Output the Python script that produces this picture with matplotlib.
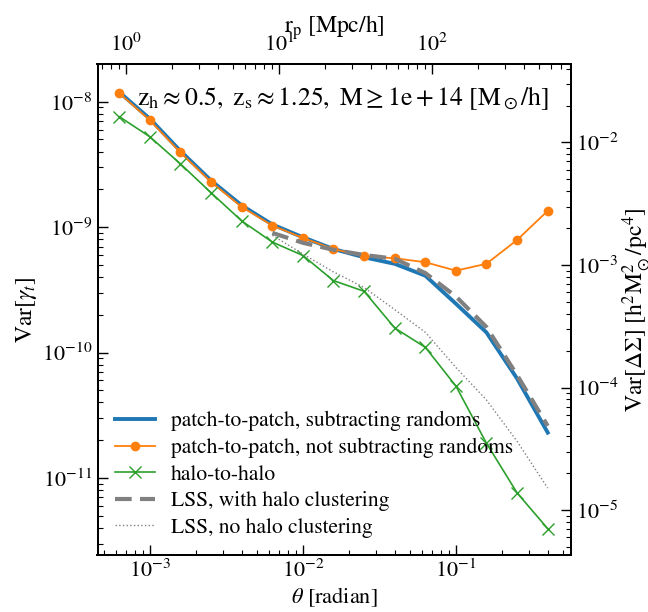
import matplotlib
matplotlib.use("Agg")
import matplotlib.pyplot as plt
import numpy as np

plt.rcParams['font.family'] = ['STIXGeneral', 'DejaVu Serif']
plt.rcParams['mathtext.fontset'] = 'stix'

# data
theta = [6.31e-4, 1.0e-3, 1.58e-3, 2.51e-3, 3.98e-3, 6.31e-3, 1.0e-2, 1.58e-2,
         2.51e-2, 3.98e-2, 6.31e-2, 0.1, 0.158, 0.251, 0.398]
var_sub = [1.19e-8, 7.3e-9, 4.05e-9, 2.35e-9, 1.49e-9, 1.05e-9, 8.3e-10, 6.7e-10,
           5.75e-10, 5.1e-10, 4.1e-10, 2.45e-10, 1.45e-10, 6.2e-11, 2.3e-11]
var_nosub = [1.17e-8, 7.1e-9, 3.94e-9, 2.29e-9, 1.45e-9, 1.03e-9, 8.2e-10, 6.7e-10,
             5.86e-10, 5.65e-10, 5.25e-10, 4.5e-10, 5.1e-10, 7.9e-10, 1.35e-9]
var_h2h = [7.6e-9, 5.25e-9, 3.2e-9, 1.88e-9, 1.12e-9, 7.6e-10, 5.94e-10, 3.75e-10,
           3.08e-10, 1.57e-10, 1.1e-10, 5.4e-11, 1.9e-11, 7.6e-12, 3.94e-12]
theta_lss = [6.31e-3, 1.0e-2, 1.58e-2, 2.51e-2, 3.98e-2, 6.31e-2, 0.1, 0.158, 0.251, 0.398]
var_lss_clust = [9.0e-10, 7.5e-10, 6.6e-10, 6.0e-10, 5.6e-10, 4.3e-10, 2.8e-10,
                 1.6e-10, 6.6e-11, 2.6e-11]
var_lss_noclust = [8.6e-10, 6.1e-10, 4.4e-10, 3.3e-10, 2.2e-10, 1.45e-10, 7.6e-11,
                   4.2e-11, 1.96e-11, 8.3e-12]

labels = ['patch-to-patch, subtracting randoms',
          'patch-to-patch, not subtracting randoms',
          'halo-to-halo',
          'LSS, with halo clustering',
          'LSS, no halo clustering']

xlim = (4.54e-4, 0.565)
ylim = (2.0e-8, 2.43e-12)
ylim_right = (4.3e-6, 4.37e-2)
rp_per_rad = 1435.0

fig = plt.figure(figsize=(6.48, 6.12), dpi=100)
ax = fig.add_axes([97.5/648, 1-555/612, (571-97.5)/648, (555-64)/612])

ax.plot(theta, var_sub, color='#1f77b4', lw=2.8, label=labels[0])
ax.plot(theta, var_nosub, color='#ff7f0e', lw=1.3, marker='o', ms=6, label=labels[1])
ax.plot(theta, var_h2h, color='#2ca02c', lw=1.2, marker='x', ms=9, mew=1.0, label=labels[2])
ax.plot(theta_lss, var_lss_clust, color='gray', lw=3, ls='--', dashes=(4, 2), label=labels[3])
ax.plot(theta_lss, var_lss_noclust, color='gray', lw=1.0, ls=':', label=labels[4])

ax.set_xscale('log')
ax.set_yscale('log')
ax.set_xlim(*xlim)
ax.set_ylim(ylim[1], ylim[0])
ax.set_xlabel(r'$\theta\ [\mathrm{radian}]$', fontsize=16, labelpad=2)
ax.set_ylabel(r'$\mathrm{Var}[\gamma_t]$', fontsize=17, labelpad=2)
ax.tick_params(which='both', direction='in', top=False, right=False, labelsize=16)
ax.tick_params(which='major', length=7, width=1)
ax.tick_params(which='minor', length=3.5, width=0.8)

ax.text(0.084, 0.93, r'$\mathrm{z_h \approx 0.5,\ z_s \approx 1.25,\ M \geq 1e+14\ [M_\odot/h]}$',
        transform=ax.transAxes, fontsize=18.5, ha='left', va='center')

leg = ax.legend(loc='lower left', frameon=False, fontsize=15.5, handlelength=1.86,
                handletextpad=0.74, borderaxespad=0.4, labelspacing=0.3)

ax2 = ax.twinx()
ax2.set_yscale('log')
ax2.set_ylim(*ylim_right)
ax2.set_ylabel(r'$\mathrm{Var}[\Delta\Sigma]\ [\mathrm{h^2M_\odot^2/pc^4}]$', fontsize=17, labelpad=2)
ax2.tick_params(which='both', direction='in', labelsize=16)
ax2.tick_params(which='major', length=7, width=1)
ax2.tick_params(which='minor', length=3.5, width=0.8)

ax3 = ax.twiny()
ax3.set_xscale('log')
ax3.set_xlim(xlim[0]*rp_per_rad, xlim[1]*rp_per_rad)
ax3.set_xlabel(r'$\mathrm{r_p\ [Mpc/h]}$', fontsize=17, labelpad=0)
ax3.tick_params(which='both', direction='in', labelsize=16, pad=6)
ax3.tick_params(which='major', length=7, width=1)
ax3.tick_params(which='minor', length=3.5, width=0.8)

for a in (ax, ax2, ax3):
    for s in a.spines.values():
        s.set_linewidth(1.3)

fig.savefig('out.png', dpi=100)
